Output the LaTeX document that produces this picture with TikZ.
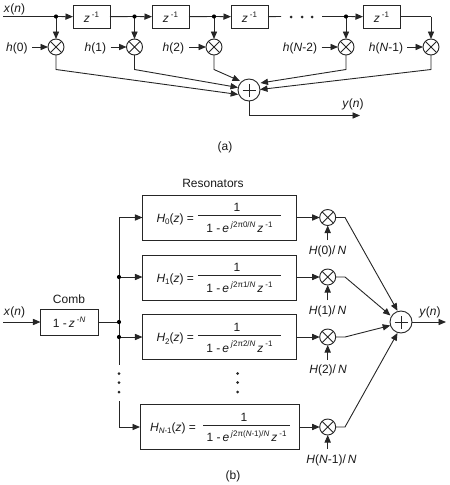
\documentclass[tikz,border=0pt]{standalone}
\usepackage{fontspec}
\setmainfont{Liberation Sans}
\usetikzlibrary{arrows.meta,calc}
\newcommand{\supr}[1]{\raisebox{0.42em}{\fontsize{8}{9}\selectfont #1}}
\newcommand{\subr}[1]{\raisebox{-0.22em}{\fontsize{8}{9}\selectfont #1}}
\newcommand{\iv}[1]{\textit{#1}}
\tikzset{
  x=1pt,y=-1pt,
  every node/.style={font=\fontsize{12}{14}\selectfont,inner sep=0pt,outer sep=0pt,text=black!90},
  wire/.style={line width=0.9pt,draw=black!85,line cap=butt},
  arrowed/.style={wire,-{Triangle[length=7.5pt,width=6.2pt]}},
  boxn/.style={draw=black!85,line width=0.9pt,rectangle,minimum height=#1},
  boxn/.default=22.5pt,
  mult/.style={circle,draw=black!85,line width=0.9pt,minimum size=16pt,path picture={
    \draw[line width=0.8pt,black!85] (path picture bounding box.north west)--(path picture bounding box.south east)
      (path picture bounding box.north east)--(path picture bounding box.south west);}},
  summer/.style={circle,draw=black!85,line width=0.9pt,minimum size=22pt,path picture={
    \draw[line width=0.8pt,black!85] ([yshift=-6.5pt]path picture bounding box.center)--([yshift=6.5pt]path picture bounding box.center)
      ([xshift=-6.5pt]path picture bounding box.center)--([xshift=6.5pt]path picture bounding box.center);}},
  jn/.style={circle,fill=black,minimum size=4.2pt},
  fdot/.style={circle,fill=black!85,minimum size=3pt},
  rbox/.style={draw=black!85,line width=0.9pt,rectangle,minimum height=45pt},
}
\begin{document}
\begin{tikzpicture}
\useasboundingbox (0,0) rectangle (450,485);
%%% (a)
\coordinate (ain) at (3,16.5);
\node[boxn,minimum width=37pt] (z1) at (91.5,16.8) {\iv{z}\,\supr{-1}};
\node[boxn,minimum width=37pt] (z2) at (170.5,16.8) {\iv{z}\,\supr{-1}};
\node[boxn,minimum width=37pt] (z3) at (249.5,16.8) {\iv{z}\,\supr{-1}};
\node[boxn,minimum width=37pt] (z4) at (381.5,16.8) {\iv{z}\,\supr{-1}};
\coordinate (j0) at (56,16.5);
\coordinate (j1) at (134.5,16.5);
\coordinate (j2) at (214,16.5);
\coordinate (j3) at (346,16.5);
\coordinate (g1) at (281,16.5);
\coordinate (g2) at (322,16.5);
\coordinate (ce) at (431,16.5);
\node[fdot] (gd1) at (291,17) {};
\node[fdot] (gd2) at (302,17) {};
\node[fdot] (gd3) at (312,17) {};
\node[anchor=base west] (xa) at (4,12.5) {\iv{x}(\iv{n})};
\node[mult] (m0) at (56,47) {};
\node[mult] (m1) at (134.5,47) {};
\node[mult] (m2) at (214,47) {};
\node[mult] (m3) at (346,47) {};
\node[mult] (m4) at (431,47) {};
\node[anchor=base east] (h0) at (27.5,51.5) {\iv{h}(0)};
\node[anchor=base east] (h1) at (106,51.5) {\iv{h}(1)};
\node[anchor=base east] (h2) at (184,51.5) {\iv{h}(2)};
\node[anchor=base east] (h3) at (317,51.5) {\iv{h}(\iv{N}-2)};
\node[anchor=base east] (h4) at (403,51.5) {\iv{h}(\iv{N}-1)};
\node[summer] (sa) at (249,90) {};
\coordinate (k0) at (56,69.5);
\coordinate (k1) at (134.5,69.5);
\coordinate (k2) at (214,69.5);
\coordinate (k3) at (346,69.5);
\coordinate (k4) at (431,69.5);
\coordinate (ya) at (249,115.5);
\coordinate (yt) at (360,115.5);
\node[anchor=base] (yal) at (353,107) {\iv{y}(\iv{n})};
\node (capa) at (225,147) {(a)};
\draw[wire] (ain)--(j0);
\draw[arrowed] (j0)--(z1);
\draw[wire] (z1)--(j1);
\draw[arrowed] (j1)--(z2);
\draw[wire] (z2)--(j2);
\draw[arrowed] (j2)--(z3);
\draw[wire] (z3)--(g1);
\draw[wire] (g2)--(j3);
\draw[arrowed] (j3)--(z4);
\draw[wire] (z4.east|-ce)--(ce);
\draw[arrowed] (ce)--(m4.north);
\draw[arrowed] (j0)--(m0.north);
\draw[arrowed] (j1)--(m1.north);
\draw[arrowed] (j2)--(m2.north);
\draw[arrowed] (j3)--(m3.north);
\draw[arrowed] (32,47)--(m0.west);
\draw[arrowed] (110.5,47)--(m1.west);
\draw[arrowed] (189,47)--(m2.west);
\draw[arrowed] (321.5,47)--(m3.west);
\draw[arrowed] (407,47)--(m4.west);
\draw[arrowed] (m0.south)--(k0)--(238.2,94.5);
\draw[arrowed] (m1.south)--(k1)--(238,87.5);
\draw[arrowed] (m2.south)--(k2)--(240,81);
\draw[arrowed] (m3.south)--(k3)--(260.5,83);
\draw[arrowed] (m4.south)--(k4)--(260,89.5);
\draw[arrowed] (sa.south)--(ya)--(yt);
\fill[black] (j0) circle (2.1pt) (j1) circle (2.1pt) (j2) circle (2.1pt) (j3) circle (2.1pt);
%%% (b)
\node (reslab) at (213,183) {Resonators};
\node (comblab) at (69,299) {Comb};
\node[anchor=base west] (xb) at (4,315) {\iv{x}(\iv{n})};
\coordinate (bin) at (3,322);
\node[boxn=26pt,minimum width=57.5pt] (comb) at (69.2,322) {1 -\,\iv{z}\,\supr{-\iv{N}}};
\coordinate (bj) at (119,322);
\coordinate (bj1) at (119,277);
\coordinate (bj2) at (119,337);
\coordinate (btop) at (119,217.5);
\coordinate (bbot) at (119,365);
\coordinate (b2) at (119,401);
\coordinate (b3) at (119,427);
\node[fdot] (d1) at (119,373.5) {};
\node[fdot] (d2) at (119,382.5) {};
\node[fdot] (d3) at (119,392) {};
\node[fdot] (d4) at (237.7,373.5) {};
\node[fdot] (d5) at (237.7,382.5) {};
\node[fdot] (d6) at (237.7,392) {};
\node[rbox,minimum width=153.5pt] (r0) at (219.2,217.5) {};
\node[rbox,minimum width=153.5pt] (r1) at (219.2,277.5) {};
\node[rbox,minimum width=153.5pt] (r2) at (219.2,337.2) {};
\node[rbox,minimum width=159pt] (r3) at (219.5,426.7) {};
% equations
\node[anchor=base east] (e0) at (194,222) {\iv{H}\subr{0}(\iv{z}) =};
\node[anchor=base east] (e1) at (194,282) {\iv{H}\subr{1}(\iv{z}) =};
\node[anchor=base east] (e2) at (194,341.5) {\iv{H}\subr{2}(\iv{z}) =};
\node[anchor=base east] (e3) at (196,431) {\iv{H}\subr{\iv{N}-1}(\iv{z}) =};
\node (n0) at (237,207) {1};
\node (n1) at (237,267) {1};
\node (n2) at (237,327) {1};
\node (n3) at (244,417) {1};
\node[anchor=base] (f0) at (239.5,232.5) {1 -\,\iv{e}\,\supr{\iv{j}2π0/\iv{N}}\,\iv{z}\,\supr{-1}};
\node[anchor=base] (f1) at (239.5,292.5) {1 -\,\iv{e}\,\supr{\iv{j}2π1/\iv{N}}\,\iv{z}\,\supr{-1}};
\node[anchor=base] (f2) at (239.5,352) {1 -\,\iv{e}\,\supr{\iv{j}2π2/\iv{N}}\,\iv{z}\,\supr{-1}};
\node[anchor=base] (f3) at (246.5,441.5) {1 -\,\iv{e}\,\supr{\iv{j}2π(\iv{N}-1)/\iv{N}}\,\iv{z}\,\supr{-1}};
\coordinate (fa0) at (198,215.7); \coordinate (fb0) at (281,215.7);
\coordinate (fa1) at (198,275.7); \coordinate (fb1) at (281,275.7);
\coordinate (fa2) at (198,335.5); \coordinate (fb2) at (281,335.5);
\coordinate (fa3) at (203,425); \coordinate (fb3) at (290,425);
\draw[wire] (fa0)--(fb0) (fa1)--(fb1) (fa2)--(fb2) (fa3)--(fb3);
% multipliers
\node[mult] (bm0) at (327.7,217.5) {};
\node[mult] (bm1) at (327.7,277) {};
\node[mult] (bm2) at (327.7,337) {};
\node[mult] (bm3) at (327.7,427) {};
\node (g0l) at (327.5,251) {\iv{H}(0)/\,\iv{N}};
\node (g1l) at (327.5,311) {\iv{H}(1)/\,\iv{N}};
\node (g2l) at (328,370) {\iv{H}(2)/\,\iv{N}};
\node (g3l) at (331.5,460) {\iv{H}(\iv{N}-1)/\,\iv{N}};
\node[summer] (sb) at (401,322) {};
\coordinate (c0) at (345,217.5);
\coordinate (c1) at (345,277);
\coordinate (c2) at (345,337);
\coordinate (c3) at (345,427);
\coordinate (yb) at (446,322);
\node[anchor=base] (ybl) at (430,315) {\iv{y}(\iv{n})};
\node (capb) at (233,476) {(b)};
\draw[arrowed] (bin)--(comb);
\draw[wire] (comb)--(bj);
\draw[wire] (btop)--(bbot);
\draw[wire] (b2)--(b3);
\draw[arrowed] (btop)--(r0.west);
\draw[arrowed] (bj1)--(bj1-|r1.west);
\draw[arrowed] (bj2)--(bj2-|r2.west);
\draw[arrowed] (b3)--(b3-|r3.west);
\draw[arrowed] (bm0-|r0.east)--(bm0.west);
\draw[arrowed] (bm1-|r1.east)--(bm1.west);
\draw[arrowed] (bm2-|r2.east)--(bm2.west);
\draw[arrowed] (bm3-|r3.east)--(bm3.west);
\draw[arrowed] (bm0|-r0.south)--(bm0.south);
\draw[arrowed] (bm1|-r1.south)--(bm1.south);
\draw[arrowed] (bm2|-r2.south)--(bm2.south);
\draw[arrowed] (bm3|-r3.south)--(bm3.south);
\draw[arrowed] (bm0.east)--(c0)--(397.5,310.8);
\draw[arrowed] (bm1.east)--(c1)--(390.5,315.5);
\draw[arrowed] (bm2.east)--(c2)--(390.2,325.5);
\draw[arrowed] (bm3.east)--(c3)--(397.5,333);
\draw[arrowed] (sb.east)--(yb);
\fill[black] (bj) circle (2.1pt) (bj1) circle (2.1pt) (bj2) circle (2.1pt);
\end{tikzpicture}
\end{document}
